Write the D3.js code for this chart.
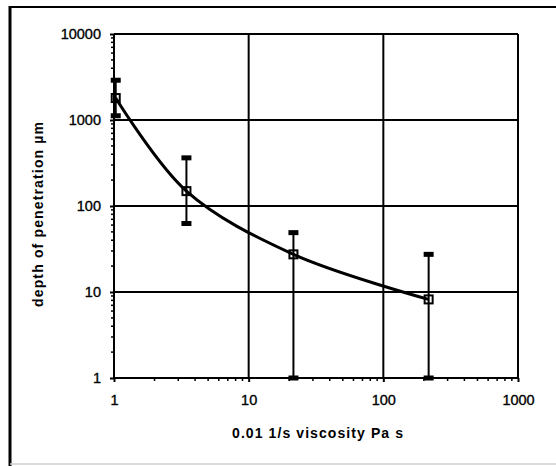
<!DOCTYPE html>
<html>
<head>
<meta charset="utf-8">
<script src="https://cdn.jsdelivr.net/npm/d3@7"></script>
<style>
  html, body { margin: 0; padding: 0; background: #fff; }
  svg { display: block; }
  text { font-family: "Liberation Sans", Arial, sans-serif; fill: #000; }
</style>
</head>
<body>
<svg id="chart" width="556" height="466"></svg>
<script>
// Shear rate 0.01 1/s viscosity (Pa s) vs. depth of penetration (µm)
const viscosity   = [1.03, 3.45, 21.5, 217];
const depth       = [1800, 149, 27.4, 8.2];
const depthUpper  = [2900, 363, 49, 27.4];
const depthLower  = [1120, 62.6, 1, 1];

const xTickValues = [1, 10, 100, 1000];
const yTickValues = [1, 10, 100, 1000, 10000];
const xTitle = "0.01 1/s viscosity Pa s";
const yTitle = "depth of penetration µm";

const svg = d3.select("#chart");
const W = 556, H = 466;
const plot = { left: 114, right: 518, top: 34, bottom: 378 };

const x = d3.scaleLog().domain([1, 1000]).range([plot.left, plot.right]);
const y = d3.scaleLog().domain([1, 10000]).range([plot.bottom, plot.top]);

// outer frame
svg.append("line").attr("x1", 9).attr("x2", W).attr("y1", 7).attr("y2", 7)
  .attr("stroke", "#000").attr("stroke-width", 2);
svg.append("line").attr("x1", 10).attr("x2", 10).attr("y1", 6).attr("y2", H)
  .attr("stroke", "#000").attr("stroke-width", 3);
svg.append("line").attr("x1", 10).attr("x2", W).attr("y1", 464).attr("y2", 464)
  .attr("stroke", "#d0d0d0").attr("stroke-width", 1.5);

// minor ticks (2..9 of each decade)
const minors = (lo, hi) => {
  const out = [];
  for (let d = lo; d < hi; d *= 10) for (let k = 2; k <= 9; k++) out.push(d * k);
  return out;
};

// gridlines
const grid = svg.append("g").attr("stroke", "#000").attr("stroke-width", 2);
grid.selectAll(".gx").data(xTickValues.slice(1)).join("line")
  .attr("x1", d => x(d)).attr("x2", d => x(d))
  .attr("y1", plot.top).attr("y2", plot.bottom);
grid.selectAll(".gy").data(yTickValues.slice(1)).join("line")
  .attr("y1", d => y(d)).attr("y2", d => y(d))
  .attr("x1", plot.left).attr("x2", plot.right);

const styleTickText = sel => sel
  .attr("font-size", 14.5)
  .attr("font-family", "Liberation Sans, Arial, sans-serif")
  .attr("stroke", "#000").attr("stroke-width", 0.35);

// x axis
const xAxis = svg.append("g").attr("transform", `translate(0,${plot.bottom})`)
  .call(d3.axisBottom(x).tickValues(xTickValues).tickFormat(d3.format("d"))
    .tickSize(4).tickPadding(13));
xAxis.select(".domain").attr("stroke-width", 2).attr("d", `M${plot.left},0H${plot.right}`);
xAxis.selectAll(".tick line").attr("stroke-width", 2);
xAxis.selectAll(".tick text").call(styleTickText);
svg.append("g").selectAll("line").data(minors(1, 1000)).join("line")
  .attr("x1", d => x(d)).attr("x2", d => x(d))
  .attr("y1", plot.bottom).attr("y2", plot.bottom + 3)
  .attr("stroke", "#000").attr("stroke-width", 1.5);

// y axis
const yAxis = svg.append("g").attr("transform", `translate(${plot.left},0)`)
  .call(d3.axisLeft(y).tickValues(yTickValues).tickFormat(d3.format("d"))
    .tickSize(4).tickPadding(9));
yAxis.select(".domain").attr("stroke-width", 2).attr("d", `M0,${plot.bottom}V${plot.top}`);
yAxis.selectAll(".tick line").attr("stroke-width", 2);
yAxis.selectAll(".tick text").call(styleTickText);
svg.append("g").selectAll("line").data(minors(1, 10000)).join("line")
  .attr("y1", d => y(d)).attr("y2", d => y(d))
  .attr("x1", plot.left - 3).attr("x2", plot.left)
  .attr("stroke", "#000").attr("stroke-width", 1.5);

// axis titles
svg.append("text").attr("x", 317.5).attr("y", 438).attr("text-anchor", "middle")
  .attr("font-size", 14).attr("font-weight", "bold")
  .attr("textLength", 171).attr("lengthAdjust", "spacing")
  .text(xTitle);
svg.append("text").attr("transform", "translate(43,214.5) rotate(-90)")
  .attr("text-anchor", "middle").attr("font-size", 14).attr("font-weight", "bold")
  .attr("textLength", 185).attr("lengthAdjust", "spacing")
  .text(yTitle);

// data
const pts = viscosity.map((v, i) => ({ v, d: depth[i], hi: depthUpper[i], lo: depthLower[i] }));

// error bars
const eb = svg.append("g");
eb.selectAll("line").data(pts).join("line")
  .attr("x1", p => x(p.v)).attr("x2", p => x(p.v))
  .attr("y1", p => y(p.hi)).attr("y2", p => y(p.lo))
  .attr("stroke", "#000").attr("stroke-width", 2);
const caps = pts.flatMap(p => [{ v: p.v, val: p.hi }, { v: p.v, val: p.lo }]);
eb.selectAll("rect").data(caps).join("rect")
  .attr("x", c => x(c.v) - 5).attr("y", c => y(c.val) - 2.5)
  .attr("width", 10).attr("height", 5).attr("fill", "#000");

// smoothed connecting line
const line = d3.line().x(p => x(p.v)).y(p => y(p.d)).curve(d3.curveCatmullRom.alpha(0.5));
svg.append("path").datum(pts).attr("d", line)
  .attr("fill", "none").attr("stroke", "#000").attr("stroke-width", 3);

// markers
svg.append("g").selectAll("rect").data(pts).join("rect")
  .attr("x", p => x(p.v) - 4).attr("y", p => y(p.d) - 4)
  .attr("width", 8).attr("height", 8)
  .attr("fill", "none").attr("stroke", "#000").attr("stroke-width", 2);
</script>
</body>
</html>
